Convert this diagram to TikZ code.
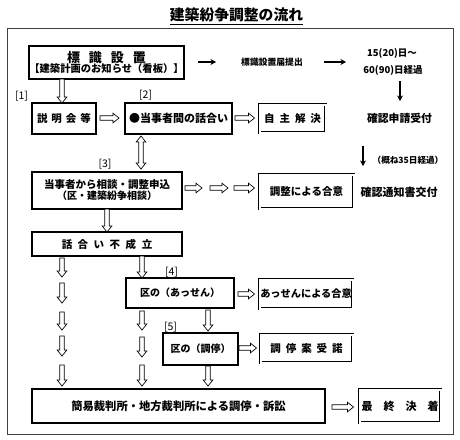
\documentclass[tikz,border=0pt]{standalone}
\usepackage{fontspec}
\setmainfont{Noto Sans CJK JP}
\usetikzlibrary{arrows.meta,calc}
\tikzset{
  box/.style={draw=black, line width=1.8pt, inner sep=0pt, outer sep=0pt, align=center, font=\bfseries\fontsize{10.5}{12}\selectfont},
  dbox/.style={draw=black, double=white, double distance=2pt, line width=0.8pt, inner sep=0pt, outer sep=0pt, align=center, font=\bfseries\fontsize{10.5}{12}\selectfont},
  hol/.style={draw=black, fill=white, line width=0.7pt, line join=miter},
  tarrow/.style={line width=1.3pt, -{Stealth[length=5.5pt,width=6pt]}},
  lab/.style={font=\fontsize{10.5}{12}\selectfont, inner sep=0pt},
  txt/.style={font=\bfseries\fontsize{10.5}{12}\selectfont, inner sep=0pt, align=center},
}
\newcommand\hdn[3]{\draw[hol] let \p1=#2, \p2=#3 in ({#1pt-2.2pt},\y1) -- ({#1pt-2.2pt},\y2+6pt) -- ({#1pt-4.8pt},\y2+6pt) -- ({#1pt},\y2) -- ({#1pt+4.8pt},\y2+6pt) -- ({#1pt+2.2pt},\y2+6pt) -- ({#1pt+2.2pt},\y1) -- cycle;}
\newcommand\hud[3]{\draw[hol] let \p1=#2, \p2=#3 in ({#1pt},\y1) -- ({#1pt+4.8pt},\y1-6pt) -- ({#1pt+2.2pt},\y1-6pt) -- ({#1pt+2.2pt},\y2+6pt) -- ({#1pt+4.8pt},\y2+6pt) -- ({#1pt},\y2) -- ({#1pt-4.8pt},\y2+6pt) -- ({#1pt-2.2pt},\y2+6pt) -- ({#1pt-2.2pt},\y1-6pt) -- ({#1pt-4.8pt},\y1-6pt) -- cycle;}
\newcommand\hrt[3]{\draw[hol] let \p1=#2, \p2=#3 in (\x1,{-#1pt+2.2pt}) -- (\x2-6pt,{-#1pt+2.2pt}) -- (\x2-6pt,{-#1pt+4.8pt}) -- (\x2,{-#1pt}) -- (\x2-6pt,{-#1pt-4.8pt}) -- (\x2-6pt,{-#1pt-2.2pt}) -- (\x1,{-#1pt-2.2pt}) -- cycle;}
\begin{document}
\begin{tikzpicture}[x=1pt,y=-1pt]
\useasboundingbox (0,0) rectangle (460,439);
\fill[white] (0,0) rectangle (460,439);
% title
\node[font=\bfseries\fontsize{14.8}{16}\selectfont, inner sep=0pt] (title) at (236.5,15) {建築紛争調整の流れ};
\draw[line width=1pt] ([yshift=-2pt]title.south west) -- ([yshift=-2pt]title.south east);
% frame
\draw[line width=1pt, black!75] (7,28) rectangle (453,434);
% boxes
\node[box, minimum width=149pt, minimum height=33pt] (sign) at (106.5,62.5)
  {{\fontsize{13}{14}\selectfont 標\hspace{9pt}識\hspace{9pt}設\hspace{9pt}置}\\[-2pt]{\fontsize{10.3}{12}\selectfont 【建築計画のお知らせ（看板）】}};
\node[box, minimum width=64pt, minimum height=31pt] (setsumei) at (64,118.5) {説\hspace{4pt}明\hspace{4pt}会\hspace{4pt}等};
\node[box, minimum width=107pt, minimum height=31pt, font=\bfseries\fontsize{11}{12}\selectfont] (touzi) at (178.5,118.5) {●当事者間の話合い};
\node[dbox, minimum width=66pt, minimum height=28pt] (jishu) at (292.5,118.5) {自\hspace{5pt}主\hspace{5pt}解\hspace{5pt}決};
\node[box, minimum width=150pt, minimum height=37pt] (soudan) at (107,190.5)
  {当事者から相談・調整申込\\[-1pt]{\fontsize{10}{12}\selectfont （区・建築紛争相談）}};
\node[dbox, minimum width=94pt, minimum height=34pt] (chousei) at (306.5,191.5) {調整による合意};
\node[box, minimum width=150pt, minimum height=24pt] (fuseiritsu) at (107,244) {話\hspace{5.5pt}合\hspace{5.5pt}い\hspace{5.5pt}不\hspace{5.5pt}成\hspace{5.5pt}立};
\node[box, minimum width=108pt, minimum height=30pt, font=\bfseries\fontsize{10}{12}\selectfont] (assen) at (180,293) {区の（あっせん）};
\node[dbox, minimum width=93pt, minimum height=29pt, font=\bfseries\fontsize{10.2}{12}\selectfont] (assengoui) at (306,294) {あっせんによる合意};
\node[box, minimum width=75pt, minimum height=32pt, font=\bfseries\fontsize{10}{12}\selectfont] (chotei) at (200.5,349) {区の（調停）};
\node[dbox, minimum width=92pt, minimum height=28pt] (juudaku) at (306.5,348.5) {調\hspace{5pt}停\hspace{5pt}案\hspace{5pt}受\hspace{5pt}諾};
\node[box, minimum width=293pt, minimum height=34pt, font=\bfseries\fontsize{11.3}{12}\selectfont] (court) at (178.5,406) {簡易裁判所・地方裁判所による調停・訴訟};
\node[dbox, minimum width=81pt, minimum height=33pt, font=\bfseries\fontsize{11}{12}\selectfont] (final) at (400,406) {最\hspace{11pt}終\hspace{11pt}決\hspace{11pt}着};
% free texts
\node[txt, font=\bfseries\fontsize{8.8}{10}\selectfont] (todoke) at (272,62) {標識設置届提出};
\node[txt, font=\bfseries\fontsize{9.5}{10}\selectfont] (days1) at (392,53) {15(20)日～};
\node[txt, font=\bfseries\fontsize{9.5}{10}\selectfont] (days2) at (393,70) {60(90)日経過};
\node[txt, font=\bfseries\fontsize{10.8}{12}\selectfont] (uketsuke) at (399.5,118) {確認申請受付};
\node[txt, font=\bfseries\fontsize{8.6}{10}\selectfont] (gaine) at (408,160) {（概ね35日経過）};
\node[txt, font=\bfseries\fontsize{11}{12}\selectfont] (koufu) at (399,192) {確認通知書交付};
% bracket labels
\node[lab] (l1) at (21.5,96) {[1]};
\node[lab] (l2) at (145.5,95) {[2]};
\node[lab] (l3) at (105,164) {[3]};
\node[lab] (l4) at (171.5,272) {[4]};
\node[lab] (l5) at (170.5,327) {[5]};
% thin arrows
\coordinate (a1) at (198,62);
\coordinate (a2) at (216,62);
\draw[tarrow] (a1) -- (a2);
\coordinate (b1) at (324,62);
\coordinate (b2) at (346,62);
\draw[tarrow] (b1) -- (b2);
\coordinate (d1) at (400,81);
\coordinate (d2) at (400,101);
\draw[tarrow] (d1) -- (d2);
\coordinate (g1) at (363,146);
\coordinate (g2) at (363,166);
\draw[tarrow] (g1) -- (g2);
% hollow arrows, vertical
\hdn{62}{(sign.south)}{(setsumei.north)}
\hud{141}{([yshift=-2pt]touzi.south)}{([yshift=3pt]soudan.north)}
\hdn{107}{(soudan.south)}{(fuseiritsu.north)}
\foreach \a/\b in {258/277,283/303,312/330,336/356,365/386}{\hdn{62}{(62,\a)}{(62,\b)}}
\hdn{142}{(fuseiritsu.south)}{(assen.north)}
\foreach \a/\b in {311/330,337/357,365/386}{\hdn{142}{(142,\a)}{(142,\b)}}
\hdn{208}{([yshift=-2pt]assen.south)}{([yshift=2pt]chotei.north)}
\hdn{208}{([yshift=-1pt]chotei.south)}{([yshift=3pt]court.north)}
% hollow arrows, horizontal
\hrt{118}{([xshift=4pt]setsumei.east)}{([xshift=-6pt]touzi.west)}
\hrt{118}{([xshift=3pt]touzi.east)}{([xshift=-5pt]jishu.west)}
\hrt{188}{([xshift=3pt]soudan.east)}{(202,188)}
\hrt{188}{(210,188)}{(228,188)}
\hrt{188}{(234,188)}{([xshift=-5pt]chousei.west)}
\hrt{294}{([xshift=4pt]assen.east)}{([xshift=-5pt]assengoui.west)}
\hrt{348}{([xshift=1pt]chotei.east)}{([xshift=-4pt]juudaku.west)}
\hrt{407}{([xshift=7pt]court.east)}{([xshift=-6pt]final.west)}
\end{tikzpicture}
\end{document}
